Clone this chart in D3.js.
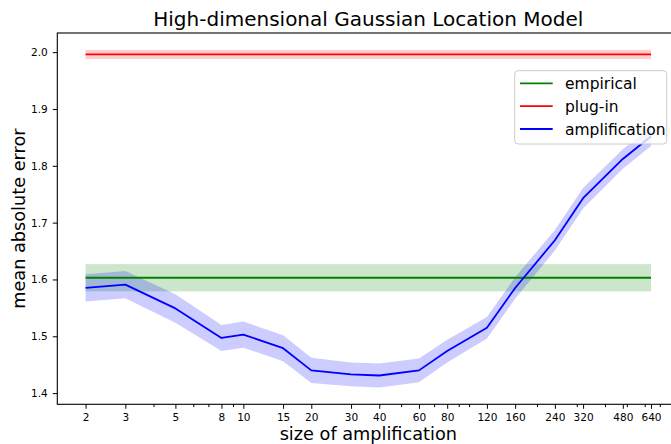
<!DOCTYPE html>
<html>
<head>
<meta charset="utf-8">
<script src="https://cdn.jsdelivr.net/npm/d3@7"></script>
<style>
  body { margin: 0; background: #fff; }
  svg { display: block; font-family: "DejaVu Sans", sans-serif; }
</style>
</head>
<body>
<svg id="chart" width="671" height="444"></svg>
<script>
// ---- data ----
const sizes = [2, 3, 5, 8, 10, 15, 20, 30, 40, 60, 80, 120, 160, 240, 320, 480, 640];
const xTickLabels = ["2","3","5","8","10","15","20","30","40","60","80","120","160","240","320","480","640"];
const amplification = [1.585, 1.591, 1.549, 1.497, 1.503, 1.479, 1.440, 1.433, 1.431, 1.440, 1.474, 1.515, 1.585, 1.669, 1.743, 1.812, 1.852];
const amplificationErr = [0.024, 0.024, 0.025, 0.023, 0.023, 0.023, 0.022, 0.021, 0.021, 0.021, 0.020, 0.019, 0.019, 0.018, 0.018, 0.017, 0.017];
const empirical = 1.603, empiricalErr = 0.024;
const plugin = 1.996, pluginErr = 0.008;
const yTicks = [1.4, 1.5, 1.6, 1.7, 1.8, 1.9, 2.0];
const legendNames = ["empirical", "plug-in", "amplification"];
const legendColors = ["#008000", "#ff0000", "#0000ff"];

// ---- layout ----
const svg = d3.select("#chart");
const L = 57.3, R = 679.3, T = 33, B = 404.3;

// matplotlib-like 5% margins
const lx0 = Math.log(d3.min(sizes)), lx1 = Math.log(d3.max(sizes));
const px = 0.05 * (lx1 - lx0);
const x = d3.scaleLog().domain([Math.exp(lx0 - px), Math.exp(lx1 + px)]).range([L, R]);
const yLo = d3.min(amplification.map((v, i) => v - amplificationErr[i]));
const yHi = plugin + pluginErr;
const py = 0.05 * (yHi - yLo);
const y = d3.scaleLinear().domain([yLo - py, yHi + py]).range([B, T]);

svg.append("defs").append("clipPath").attr("id", "clip")
  .append("rect").attr("x", L).attr("y", T).attr("width", R - L).attr("height", B - T);

const plot = svg.append("g").attr("clip-path", "url(#clip)");

const xs0 = d3.min(sizes), xs1 = d3.max(sizes);
// bands
plot.append("rect").attr("x", x(xs0)).attr("width", x(xs1) - x(xs0))
  .attr("y", y(empirical + empiricalErr)).attr("height", y(empirical - empiricalErr) - y(empirical + empiricalErr))
  .attr("fill", "#008000").attr("fill-opacity", 0.2);
plot.append("rect").attr("x", x(xs0)).attr("width", x(xs1) - x(xs0))
  .attr("y", y(plugin + pluginErr)).attr("height", y(plugin - pluginErr) - y(plugin + pluginErr))
  .attr("fill", "#ff0000").attr("fill-opacity", 0.2);
const area = d3.area().x((d, i) => x(sizes[i]))
  .y0((d, i) => y(d - amplificationErr[i])).y1((d, i) => y(d + amplificationErr[i]));
plot.append("path").datum(amplification).attr("d", area)
  .attr("fill", "#0000ff").attr("fill-opacity", 0.2);

// lines
plot.append("line").attr("x1", x(xs0)).attr("x2", x(xs1)).attr("y1", y(empirical)).attr("y2", y(empirical))
  .attr("stroke", "#008000").attr("stroke-width", 1.8);
plot.append("line").attr("x1", x(xs0)).attr("x2", x(xs1)).attr("y1", y(plugin)).attr("y2", y(plugin))
  .attr("stroke", "#ff0000").attr("stroke-width", 1.8);
const line = d3.line().x((d, i) => x(sizes[i])).y(d => y(d));
plot.append("path").datum(amplification).attr("d", line)
  .attr("fill", "none").attr("stroke", "#0000ff").attr("stroke-width", 1.8).attr("stroke-linejoin", "round");

// axes
const majorSet = new Set(sizes);
const minor = x.ticks().filter(v => !majorSet.has(Math.round(v)));
const xAxisMinor = d3.axisBottom(x).tickValues(minor).tickSize(2.8).tickFormat("");
const gxm = svg.append("g").attr("transform", `translate(0,${B})`).call(xAxisMinor);
gxm.select(".domain").remove();
const xAxis = d3.axisBottom(x).tickValues(sizes).tickSize(4.5).tickPadding(5)
  .tickFormat((d, i) => xTickLabels[i]);
const gx = svg.append("g").attr("transform", `translate(0,${B})`).call(xAxis);
gx.select(".domain").remove();
const yAxis = d3.axisLeft(y).tickValues(yTicks).tickSize(4.5).tickPadding(5).tickFormat(d3.format(".1f"));
const gy = svg.append("g").attr("transform", `translate(${L},0)`).call(yAxis);
gy.select(".domain").remove();
svg.selectAll(".tick line").attr("stroke", "#000").attr("stroke-width", 1);
svg.selectAll(".tick text").attr("font-size", 10.5).attr("fill", "#000")
  .attr("font-family", "DejaVu Sans");

// spines
svg.append("rect").attr("x", L).attr("y", T).attr("width", R - L).attr("height", B - T)
  .attr("fill", "none").attr("stroke", "#000").attr("stroke-width", 1.1);

// title and labels
svg.append("text").attr("x", (L + R) / 2).attr("y", 26).attr("text-anchor", "middle")
  .attr("font-size", 20).text("High-dimensional Gaussian Location Model");
svg.append("text").attr("x", (L + R) / 2).attr("y", 440).attr("text-anchor", "middle")
  .attr("font-size", 17.7).text("size of amplification");
svg.append("text").attr("transform", `translate(25,${(T + B) / 2}) rotate(-90)`).attr("text-anchor", "middle")
  .attr("font-size", 17.7).text("mean absolute error");

// legend
const lg = svg.append("g");
lg.append("rect").attr("x", 514.7).attr("y", 70.7).attr("width", 152).attr("height", 73.3)
  .attr("rx", 3.5).attr("fill", "#fff").attr("fill-opacity", 0.8)
  .attr("stroke", "#cccccc").attr("stroke-width", 1);
legendNames.forEach((name, i) => {
  const cy = 83.3 + i * 22.85;
  lg.append("line").attr("x1", 520).attr("x2", 552.7).attr("y1", cy).attr("y2", cy)
    .attr("stroke", legendColors[i]).attr("stroke-width", 1.8);
  lg.append("text").attr("x", 565).attr("y", cy).attr("dy", "0.36em")
    .attr("font-size", 15.5).text(name);
});
</script>
</body>
</html>
